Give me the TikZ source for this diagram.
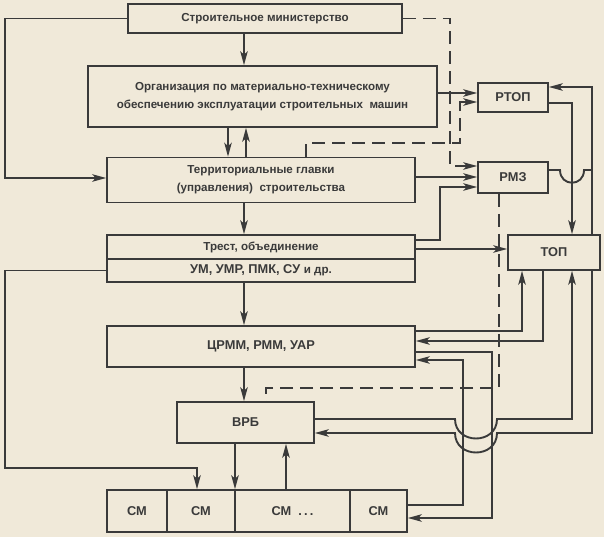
\documentclass[tikz,border=0pt]{standalone}
\usepackage{fontspec}
\setmainfont{Liberation Sans}
\usetikzlibrary{arrows.meta}
\definecolor{paper}{RGB}{240,233,217}
\definecolor{ink}{RGB}{58,58,58}

\begin{document}
\begin{tikzpicture}[x=1pt,y=-1pt,line width=1.9pt,color=ink,
  every node/.style={font=\fontsize{11.6}{18}\selectfont\bfseries,text=ink,inner sep=0pt},
  box/.style={draw=ink,line width=1.6pt,align=center},
  caps/.style={font=\fontsize{12.8}{18}\selectfont\bfseries},
  arr/.style={-{Stealth[length=14pt,width=7.5pt,inset=3.5pt]}},
  dline/.style={dash pattern=on 13pt off 7pt}]
\fill[paper] (0,0) rectangle (604,537);
\useasboundingbox (0,0) rectangle (604,537);

% boxes
\node[box,minimum width=274pt,minimum height=29pt] (min) at (265,18.5) {Строительное министерство};
\node[box,minimum width=349pt,minimum height=61pt] (org) at (262.5,96.5) {Организация по материально-техническому\\обеспечению эксплуатации строительных\ \ машин};
\node[box,minimum width=308pt,minimum height=45pt] (terr) at (261,180) {Территориальные главки\\(управления)\ \ строительства};
\node[box,minimum width=308pt,minimum height=24pt] (trust) at (261,247) {Трест, объединение};
\node[box,caps,minimum width=308pt,minimum height=23pt] (um) at (261,270.5) {УМ, УМР, ПМК, СУ {\fontsize{11.6}{18}\selectfont и др.}};
\node[box,caps,minimum width=308pt,minimum height=41pt] (crmm) at (261,346.5) {ЦРММ, РММ, УАР};
\node[box,caps,minimum width=137pt,minimum height=41pt] (vrb) at (245.5,422.5) {ВРБ};
\node[box,caps,minimum width=60pt,minimum height=42pt] (cm1) at (137,511) {СМ};
\node[box,caps,minimum width=68pt,minimum height=42pt] (cm2) at (201,511) {СМ};
\node[box,caps,minimum width=115pt,minimum height=42pt] (cm3) at (292.5,511) {СМ\ \ .\,.\,.};
\node[box,caps,minimum width=57pt,minimum height=42pt] (cm4) at (378.5,511) {СМ};
\node[box,caps,minimum width=70pt,minimum height=29pt] (rtop) at (513,97.5) {РТОП};
\node[box,caps,minimum width=70pt,minimum height=31pt] (rmz) at (513,177.5) {РМЗ};
\node[box,caps,minimum width=92pt,minimum height=35pt] (top) at (554,252.5) {ТОП};

% main column
\draw[arr] (min.south -| 244,0) -- (org.north -| 244,0);
\draw[arr] (org.south -| 228,0) -- (terr.north -| 228,0);
\draw[arr] (terr.north -| 246,0) -- (org.south -| 246,0);
\draw[arr] (terr.south -| 244,0) -- (trust.north -| 244,0);
\draw[arr] (um.south -| 244,0) -- (crmm.north -| 244,0);
\draw[arr] (crmm.south -| 244,0) -- (vrb.north -| 244,0);
\draw[arr] (vrb.south -| 235,0) -- (cm2.north -| 235,0);
\draw[arr] (cm3.north -| 286,0) -- (vrb.south -| 286,0);

% left loops
\draw[arr] (min.west) -| (5,178) -- (terr.west |- 5,178);
\draw[arr] (um.west) -| (5,468) -| (cm2.north -| 197,0);

% upper right
\draw[arr] (org.east |- 0,93) -- (rtop.west |- 0,93);
\draw[dline] (min.east) -| (450,166) -- (462,166);
\draw[arr] (462,166) -- (rmz.west |- 0,166);
\draw[dline] (terr.north -| 306,0) |- (460,143) -- (460,110);
\draw[arr] (460,110) |- (rtop.west |- 0,102);
\draw[arr] (terr.east |- 0,177) -- (rmz.west |- 0,177);
\draw[arr] (trust.east |- 0,240) -| (440,187) -- (rmz.west |- 0,187);
\draw[arr] (trust.east |- 0,249) -- (top.west |- 0,249);
\draw[arr] (rtop.east |- 0,103) -| (top.north -| 572,0);
\draw[arr] (top.north -| 592,0) |- (rtop.east |- 0,87);
\draw (rmz.east |- 0,170) -- (560,170) .. controls (560,187) and (584,187) .. (584,170) -- (592,170);
\draw[dline] (rmz.south -| 499,0) |- (266,388) -- (vrb.north -| 266,0);

% lower right
\draw[arr] (crmm.east |- 0,331) -| (top.south -| 522,0);
\draw[arr] (top.south -| 543,0) |- (crmm.east |- 0,341);
\draw[arr] (crmm.east |- 0,352) -| (492,518) -- (cm4.east |- 0,518);
\draw[arr] (cm4.east |- 0,505) -| (463,360) -- (crmm.east |- 0,360);
\draw[arr] (vrb.east |- 0,419) -- (455,419) .. controls (455,445) and (497,445) .. (497,419) -| (top.south -| 572,0);
\draw[arr] (top.south -| 592,0) |- (497,433) .. controls (497,459) and (455,459) .. (455,433) -- (vrb.east |- 0,433);
\end{tikzpicture}
\end{document}
